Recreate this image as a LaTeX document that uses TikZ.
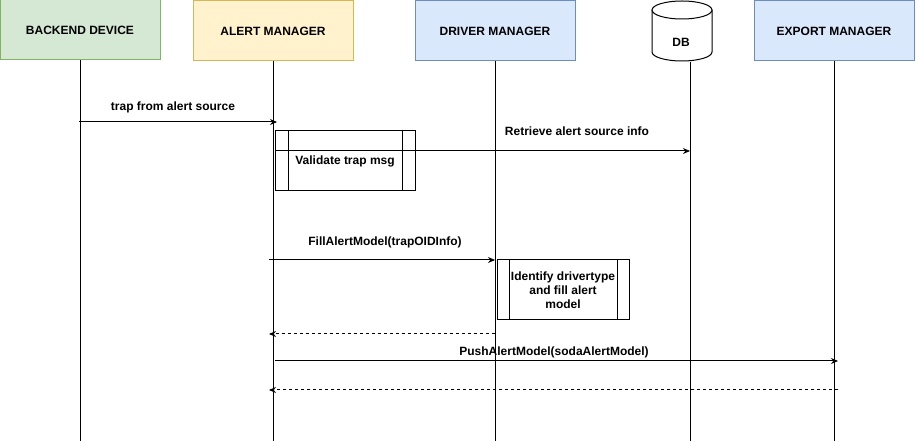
\documentclass[tikz,border=0pt]{standalone}
\usepackage{fontspec}
\setmainfont{Liberation Sans}
\usetikzlibrary{arrows.meta}

\definecolor{greenfill}{RGB}{213,232,212}
\definecolor{greenline}{RGB}{130,179,102}
\definecolor{yellowfill}{RGB}{255,242,204}
\definecolor{yellowline}{RGB}{214,182,86}
\definecolor{bluefill}{RGB}{218,232,252}
\definecolor{blueline}{RGB}{108,142,191}

\tikzset{every picture/.style={line width=1pt}}
\tikzset{
  actor/.style={draw, minimum width=160, minimum height=60, inner sep=0.75pt, font=\bfseries\fontsize{12}{14}\selectfont},
  procbox/.style={draw, fill=white, minimum height=60, inner sep=0.75pt, align=center, font=\bfseries\fontsize{12}{14}\selectfont},
  msglabel/.style={inner sep=0.75pt, font=\bfseries\fontsize{12}{14}\selectfont},
  msg/.style={-{Stealth[length=7pt,width=6pt]}},
  reply/.style={msg, dash pattern=on 3pt off 3pt},
}

\begin{document}
\begin{tikzpicture}[x=1pt,y=1pt,yscale=-1,xscale=1]
\useasboundingbox (0,0) rectangle (916,443);
\coordinate (bottom) at (0,441);

%Shape: Rectangle [backend]
\node [actor, fill=greenfill, draw=greenline] (backend) at (80,30) {BACKEND DEVICE};
%Shape: Rectangle [alert]
\node [actor, fill=yellowfill, draw=yellowline] (alert) at (273,31) {ALERT MANAGER};
%Shape: Rectangle [driver]
\node [actor, fill=bluefill, draw=blueline] (driver) at (495,31) {DRIVER MANAGER};
%Shape: Rectangle [export]
\node [actor, fill=bluefill, draw=blueline] (export) at (834,31) {EXPORT MANAGER};

%Shape: Can [db]
\draw [fill=white] (652,10) -- (652,52) arc [start angle=180, end angle=0, x radius=30, y radius=9] -- (712,10) ;
\draw [fill=white] (682,10) ellipse [x radius=30, y radius=9] ;
\node [msglabel] (db) at (681,42) {DB};
\coordinate (dbfoot) at (690,62);

%Straight Lines [lifelines]
\draw (backend.south) -- (backend.south |- bottom) ;
\draw (alert.south) -- (alert.south |- bottom) ;
\draw (driver.south) -- (driver.south |- bottom) ;
\draw (dbfoot) -- (dbfoot |- bottom) ;
\draw (export.south) -- (export.south |- bottom) ;

%Shape: Process [validate]
\node [procbox, minimum width=140] (validate) at (345,161) {Validate trap msg};
\draw ([xshift=14pt]validate.north west) -- ([xshift=14pt]validate.south west) ;
\draw ([xshift=-13pt]validate.north east) -- ([xshift=-13pt]validate.south east) ;

%Shape: Process [identify]
\node [procbox, minimum width=132] (identify) at (563,290) {Identify drivertype\\and fill alert\\model};
\draw ([xshift=13pt]identify.north west) -- ([xshift=13pt]identify.south west) ;
\draw ([xshift=-12pt]identify.north east) -- ([xshift=-12pt]identify.south east) ;

% message points
\coordinate (trapfrom) at (79,122);
\coordinate (trapto) at (277,122);
\coordinate (retrievefrom) at (275,151);
\coordinate (fillfrom) at (269,260);
\coordinate (fillto) at (495,260);
\coordinate (driverback) at (495,334);
\coordinate (alertback) at (269,334);
\coordinate (pushfrom) at (275,361);
\coordinate (pushto) at (838,361);
\coordinate (exportback) at (838,390);
\coordinate (alertback2) at (269,390);

%Straight Lines [messages]
\draw [msg] (trapfrom) -- (trapto) ;
\draw [msg] (retrievefrom) -- (dbfoot |- retrievefrom) ;
\draw [msg] (fillfrom) -- (fillto) ;
\draw [reply] (driverback) -- (alertback) ;
\draw [msg] (pushfrom) -- (pushto) ;
\draw [reply] (exportback) -- (alertback2) ;

% Text Node
\node [msglabel] (traplabel) at (173,107) {trap from alert source};
% Text Node
\node [msglabel] (retrievelabel) at (577,131) {Retrieve alert source info};
% Text Node
\node [msglabel] (filllabel) at (385,242) {FillAlertModel(trapOIDInfo)};
% Text Node
\node [msglabel] (pushlabel) at (554,352) {PushAlertModel(sodaAlertModel)};

\end{tikzpicture}
\end{document}
